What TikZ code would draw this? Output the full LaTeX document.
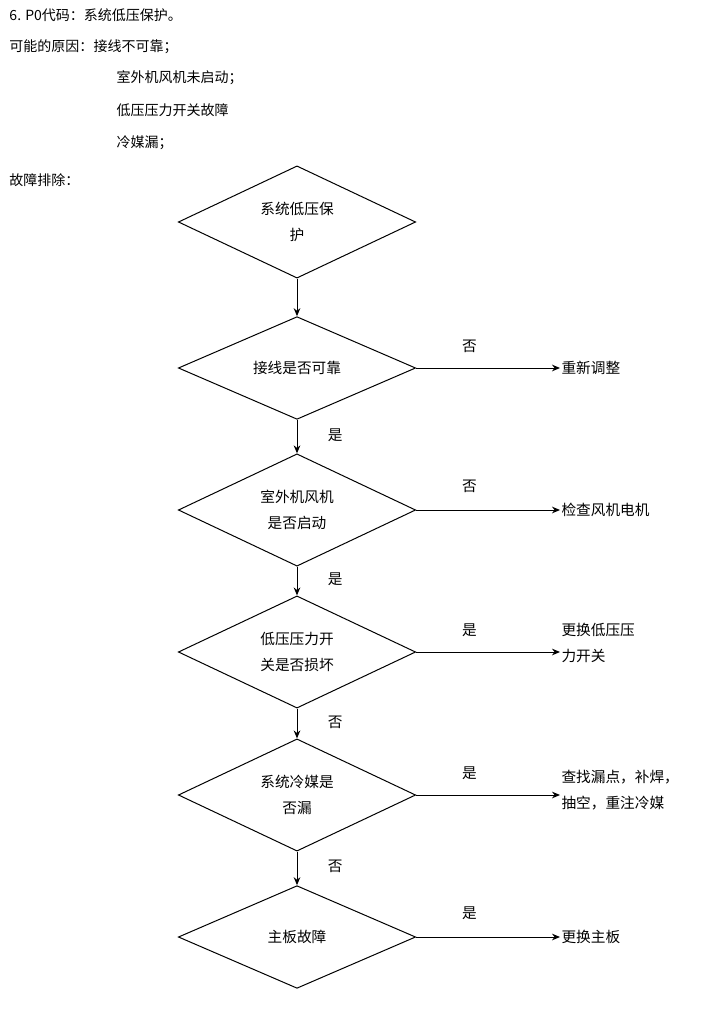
\documentclass[tikz,border=0pt]{standalone}
\usepackage{fontspec}
\setmainfont{Noto Sans CJK SC}
\usetikzlibrary{shapes.geometric,positioning,arrows.meta}
\tikzset{every picture/.style={line width=0.75pt}}
\tikzset{
  decide/.style={draw,diamond,minimum width=178pt,minimum height=77pt,inner sep=0pt,align=center,font=\fontsize{11}{19}\selectfont},
  result/.style={anchor=west,inner sep=0.75pt,align=left,font=\fontsize{11}{19}\selectfont},
  txt/.style={anchor=west,inner sep=0.75pt,font=\fontsize{10.5}{13}\selectfont},
  lab/.style={inner sep=0.75pt,font=\fontsize{11}{13}\selectfont},
  flow/.style={-{Stealth[length=6pt,width=5pt]}}
}
\begin{document}
\begin{tikzpicture}[x=0.75pt,y=0.75pt,yscale=-1,xscale=1]
\useasboundingbox (0,0) rectangle (700,1009);

% header text
\node[txt] (t1) at (8,15) {6. P0代码：系统低压保护。};
\node[txt] (t2) at (8,47) {可能的原因：接线不可靠；};
\node[txt] (t3) at (115,78) {室外机风机未启动；};
\node[txt] (t4) at (115,110) {低压压力开关故障};
\node[txt] (t5) at (115,143) {冷媒漏；};
\node[txt] (t6) at (8,180) {故障排除：};

% decisions
\node[decide] (d1) at (297,222) {系统低压保\\护};
\node[decide] (d2) at (297,368) {接线是否可靠};
\node[decide] (d3) at (297,510) {室外机风机\\是否启动};
\node[decide] (d4) at (297,652) {低压压力开\\关是否损坏};
\node[decide] (d5) at (297,795) {系统冷媒是\\否漏};
\node[decide] (d6) at (297,937) {主板故障};

% results
\node[result] (r2) at (560,368) {重新调整};
\node[result] (r3) at (560,510) {检查风机电机};
\node[result] (r4) at (560,643) {更换低压压\\力开关};
\node[result] (r5) at (560,790) {查找漏点，补焊，\\抽空，重注冷媒};
\node[result] (r6) at (560,937) {更换主板};

% vertical flow
\draw[flow] (d1) -- (d2);
\draw[flow] (d2) -- node[lab,right=22pt,pos=0.45] {是} (d3);
\draw[flow] (d3) -- node[lab,right=22pt,pos=0.45] {是} (d4);
\draw[flow] (d4) -- node[lab,right=22pt,pos=0.45] {否} (d5);
\draw[flow] (d5) -- node[lab,right=22pt,pos=0.45] {否} (d6);

% horizontal flow
\draw[flow] (d2.east) -- node[lab,above=10pt,pos=0.37] {否} (r2.west);
\draw[flow] (d3.east) -- node[lab,above=12pt,pos=0.37] {否} (r3.west);
\draw[flow] (d4.east) -- node[lab,above=10pt,pos=0.37] {是} (d4.east -| r4.west);
\draw[flow] (d5.east) -- node[lab,above=10pt,pos=0.37] {是} (d5.east -| r5.west);
\draw[flow] (d6.east) -- node[lab,above=12pt,pos=0.37] {是} (r6.west);

\end{tikzpicture}
\end{document}
